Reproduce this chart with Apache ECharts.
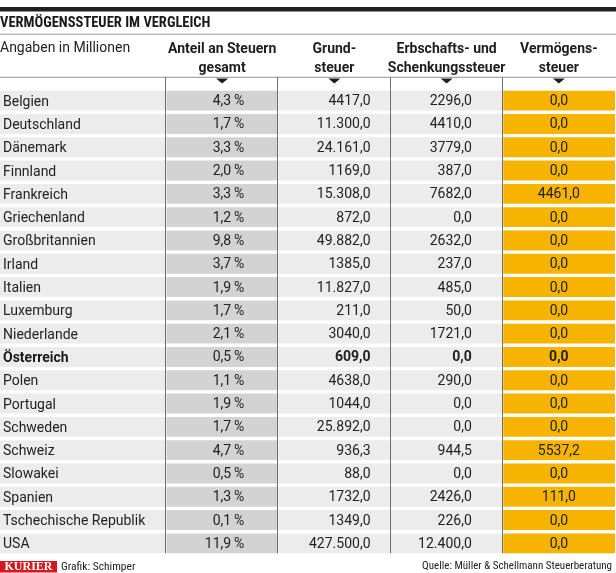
<!DOCTYPE html>
<html>
<head>
<meta charset="utf-8">
<script src="https://cdn.jsdelivr.net/npm/echarts@6/dist/echarts.min.js"></script>
<style>
html,body{margin:0;padding:0;background:#fff;}
#c{width:616px;height:573px;}
</style>
</head>
<body>
<div id="c"></div>
<script>
const countries = ['Belgien','Deutschland','Dänemark','Finnland','Frankreich','Griechenland','Großbritannien','Irland','Italien','Luxemburg','Niederlande','Österreich','Polen','Portugal','Schweden','Schweiz','Slowakei','Spanien','Tschechische Republik','USA'];
const anteil = [4.3,1.7,3.3,2.0,3.3,1.2,9.8,3.7,1.9,1.7,2.1,0.5,1.1,1.9,1.7,4.7,0.5,1.3,0.1,11.9];
const grundsteuer = [4417.0,11300.0,24161.0,1169.0,15308.0,872.0,49882.0,1385.0,11827.0,211.0,3040.0,609.0,4638.0,1044.0,25892.0,936.3,88.0,1732.0,1349.0,427500.0];
const erbschaftssteuer = [2296.0,4410.0,3779.0,387.0,7682.0,0.0,2632.0,237.0,485.0,50.0,1721.0,0.0,290.0,0.0,0.0,944.5,0.0,2426.0,226.0,12400.0];
const vermoegenssteuer = [0.0,0.0,0.0,0.0,4461.0,0.0,0.0,0.0,0.0,0.0,0.0,0.0,0.0,0.0,0.0,5537.2,0.0,111.0,0.0,0.0];
const headers = ['Anteil an Steuern\ngesamt','Grund-\nsteuer','Erbschafts- und\nSchenkungssteuer','Vermögens-\nsteuer'];
const highlight = 'Österreich';
const titleText = 'VERMÖGENSSTEUER IM VERGLEICH';
const subText = 'Angaben in Millionen';
const sourceText = 'Quelle: Müller & Schellmann Steuerberatung';
const creditText = 'Grafik: Schimper';

const FONT = 'Roboto, "Noto Sans", sans-serif';
const NARROW = '"Liberation Sans Narrow", "Roboto Condensed", Roboto, sans-serif';

function fmtNum(v){
  let s = v.toFixed(1);
  let [i,d] = s.split('.');
  if (v >= 10000) i = i.replace(/\B(?=(\d{3})+(?!\d))/g, '.');
  return i + ',' + d;
}
function fmtPct(v){ return v.toFixed(1).replace('.', ',') + '\u2009%'; }

const colStyle = [
  {bg:'#d3d3d3', align:'right', pad:34, boldHL:false},
  {bg:'#ececec', align:'right', pad:20, boldHL:true},
  {bg:'#ececec', align:'right', pad:31, boldHL:true},
  {bg:'#f6b400', align:'center', pad:0, boldHL:true}
];
const colValues = [anteil.map(fmtPct), grundsteuer.map(fmtNum), erbschaftssteuer.map(fmtNum), vermoegenssteuer.map(fmtNum)];

const cellData = [];
const cellText = [];
for (let r = 0; r < countries.length; r++) {
  for (let c = 0; c < headers.length; c++) {
    cellData.push([c, r]);
    cellText.push(colValues[c][r]);
  }
}

const chart = echarts.init(document.getElementById('c'), null, {renderer:'canvas'});
chart.setOption({
  animation:false,
  backgroundColor:'#ffffff',
  title:{text:titleText, left:0, top:16, padding:0,
    textStyle:{fontFamily:NARROW, fontSize:14.5, fontWeight:'bold', color:'#1a1a1a'}},
  grid:{left:161, right:1, top:89, height:466},
  xAxis:{type:'category', data:headers, position:'top', z:5,
    axisLine:{show:false}, axisTick:{show:false}, splitLine:{show:false},
    axisLabel:{margin:11, fontFamily:FONT, fontSize:14, fontWeight:'bold', lineHeight:19, color:'#1e1e1e', interval:0}},
  yAxis:{type:'category', data:countries, inverse:true, z:5,
    axisLine:{show:false}, axisTick:{show:false}, splitLine:{show:false},
    axisLabel:{margin:163, align:'left', fontFamily:FONT, fontSize:14, color:'#222', interval:0, padding:[3,0,0,0],
      formatter:function(v){ return v === highlight ? '{b|' + v + '}' : v; },
      rich:{b:{fontFamily:FONT, fontSize:14, fontWeight:'bold', color:'#1a1a1a'}}}},
  graphic:[
    {type:'rect', left:0, top:7, shape:{width:616, height:4.5}, style:{fill:'#202020'}},
    {type:'rect', left:0, top:33.5, shape:{width:616, height:1.5}, style:{fill:'#bdbdbd'}},
    {type:'rect', left:0, top:76.8, shape:{width:616, height:1.2}, style:{fill:'#a8a8a8'}},
    {type:'text', left:0, top:41, style:{text:subText, fontFamily:FONT, fontSize:14, fill:'#222'}},
    {type:'group', left:0, top:561, children:[
      {type:'rect', shape:{x:0, y:0, width:57, height:11.5}, style:{fill:'#d51820'}},
      {type:'text', style:{x:28.5, y:6, text:'KURIER', align:'center', verticalAlign:'middle', fontFamily:'"Liberation Serif", serif', fontWeight:'bold', fontSize:12, fill:'#ffffff'}}
    ]},
    {type:'text', left:61, top:561, style:{text:creditText, fontFamily:NARROW, fontSize:11.5, fill:'#222'}},
    {type:'text', right:4, top:561, style:{text:sourceText, fontFamily:NARROW, fontSize:11, fill:'#222'}}
  ],
  series:[
    {
      type:'custom', name:'country', coordinateSystem:'cartesian2d',
      data: countries.map((c, i) => [0, i]),
      renderItem:function(params, api){
        const p = api.coord([0, api.value(1)]);
        const s = api.size([1, 1]);
        const y0 = p[1] - s[1]/2;
        return {type:'rect', shape:{x:0, y:y0 + 1.7, width:params.coordSys.x - 1, height:s[1] - 3.4}, style:{fill:'#ececec'}};
      },
      z:1
    },
    {
      type:'custom', name:'cells', coordinateSystem:'cartesian2d',
      data: cellData,
      renderItem:function(params, api){
        const c = api.value(0), r = api.value(1);
        const p = api.coord([c, r]);
        const s = api.size([1, 1]);
        const x0 = p[0] - s[0]/2, y0 = p[1] - s[1]/2;
        const cs = colStyle[c];
        const tx = cs.align === 'center' ? p[0] : x0 + s[0] - cs.pad;
        const bold = cs.boldHL && countries[r] === highlight;
        return {type:'group', children:[
          {type:'rect', shape:{x:x0 + 0.5, y:y0 + 1.7, width:s[0] - 0.5, height:s[1] - 3.4}, style:{fill:cs.bg}},
          {type:'text', style:{x:tx, y:p[1] + 1, text:cellText[params.dataIndex], align:cs.align, verticalAlign:'middle',
            fontFamily:FONT, fontSize:14, fontWeight:bold ? 'bold' : 'normal', fill:'#222'}}
        ]};
      },
      z:2
    },
    {
      type:'custom', name:'rules', coordinateSystem:'cartesian2d',
      data: headers.map((h, i) => [i, 0]),
      renderItem:function(params, api){
        const c = api.value(0);
        const p = api.coord([c, 0]);
        const s = api.size([1, 1]);
        const cs = params.coordSys;
        const xl = Math.round(p[0] - s[0]/2) - 0.5;
        const top = cs.y - 12;
        const bottom = cs.y + cs.height - 1.8;
        return {type:'group', children:[
          {type:'line', shape:{x1:xl, y1:top, x2:xl, y2:bottom}, style:{stroke:'#6e6e6e', lineWidth:1}},
          {type:'polygon', shape:{points:[[p[0]-6, top + 1.5],[p[0]+6, top + 1.5],[p[0], top + 6.5]]}, style:{fill:'#1e1e1e'}}
        ]};
      },
      z:3
    }
  ]
});
</script>
</body>
</html>
